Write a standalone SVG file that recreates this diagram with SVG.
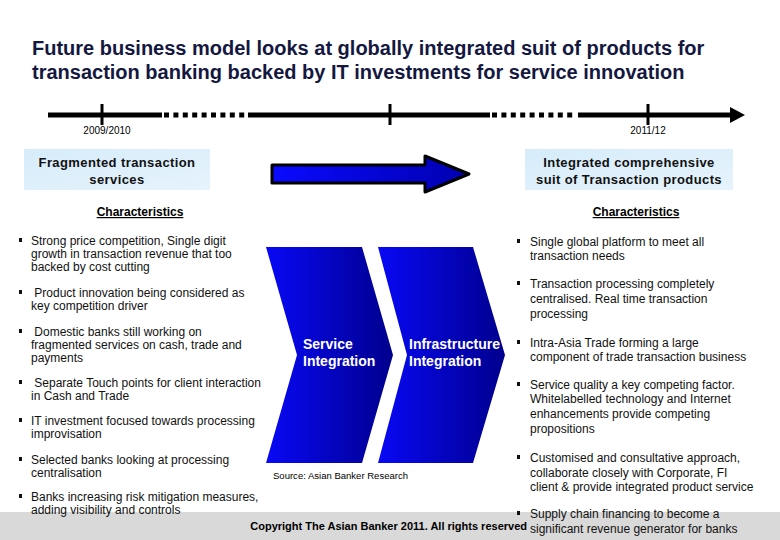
<svg xmlns="http://www.w3.org/2000/svg" width="780" height="540" viewBox="0 0 780 540">
<style>
text{font-family:"Liberation Sans",Arial,sans-serif;fill:#000}
.title{font-size:20px;font-weight:bold;fill:#14183f}
.yr{font-size:10px}
.box{fill:url(#lb)}
.bt{font-size:13px;font-weight:bold;letter-spacing:0.4px;text-anchor:middle;fill:#111}
.hd{font-size:12px;font-weight:bold;text-anchor:middle;text-decoration:underline}
.b{font-size:12px;fill:#111}
.m{fill:#111}
.cv{fill:url(#bg)}
.ct{font-size:14px;font-weight:bold;fill:#fff}
</style>
<defs>
<linearGradient id="lb" x1="0" y1="0" x2="1" y2="1">
<stop offset="0" stop-color="#d6ecfa"/><stop offset="1" stop-color="#e6f3fc"/>
</linearGradient>
<linearGradient id="bg" x1="0" y1="0" x2="1" y2="0">
<stop offset="0" stop-color="#0808f5"/><stop offset="1" stop-color="#00008e"/>
</linearGradient>
<linearGradient id="ag" x1="0" y1="0" x2="1" y2="0">
<stop offset="0" stop-color="#0a0aff"/><stop offset="1" stop-color="#0000b0"/>
</linearGradient>
</defs>
<rect width="780" height="540" fill="#fff"/>
<g id="title">
<text class="title" x="32" y="55">Future business model looks at globally integrated suit of products for</text>
<text class="title" x="32" y="79">transaction banking backed by IT investments for service innovation</text>
</g>
<g id="connectors">
<g id="timeline" stroke="#000" stroke-width="5">
<line x1="48" y1="115" x2="162" y2="115"/>
<line x1="164" y1="115" x2="246" y2="115" stroke-dasharray="5 4.4"/>
<line x1="248" y1="115" x2="490" y2="115"/>
<line x1="492" y1="115" x2="575" y2="115" stroke-dasharray="5 4.4"/>
<line x1="578" y1="115" x2="732" y2="115"/>
<line x1="102" y1="104" x2="102" y2="125" stroke-width="3"/>
<line x1="390" y1="104" x2="390" y2="125" stroke-width="3"/>
<line x1="648" y1="104" x2="648" y2="125" stroke-width="3"/>
<polygon points="730,107 745,115 730,123" stroke="none" fill="#000"/>
</g>
<path id="bigArrow" d="M272,165 H425 V156 L469,174 L425,192 V183 H272 Z" fill="url(#ag)" stroke="#000" stroke-width="3" stroke-linejoin="round"/>
</g>
<text class="yr" x="107" y="134" text-anchor="middle">2009/2010</text>
<text class="yr" x="648" y="134" text-anchor="middle">2011/12</text>
<g id="leftBox">
<rect class="box" x="24" y="149" width="186" height="41"/>
<text class="bt" x="117" y="167">Fragmented transaction</text>
<text class="bt" x="117" y="184">services</text>
</g>
<g id="rightBox">
<rect class="box" x="525" y="149" width="208" height="41"/>
<text class="bt" x="629" y="167">Integrated comprehensive</text>
<text class="bt" x="629" y="184">suit of Transaction products</text>
</g>
<g id="leftList">
<text class="hd" x="140" y="216">Characteristics</text>
<rect class="m" x="19" y="238" width="3" height="4"/>
<text class="b" x="31" y="245">Strong price competition, Single digit</text>
<text class="b" x="31" y="258">growth in transaction revenue that too</text>
<text class="b" x="31" y="271">backed by cost cutting</text>
<rect class="m" x="19" y="290" width="3" height="4"/>
<text class="b" x="31" y="297" xml:space="preserve"> Product innovation being considered as</text>
<text class="b" x="31" y="310">key competition driver</text>
<rect class="m" x="19" y="329" width="3" height="4"/>
<text class="b" x="31" y="336" xml:space="preserve"> Domestic banks still working on</text>
<text class="b" x="31" y="349">fragmented services on cash, trade and</text>
<text class="b" x="31" y="362">payments</text>
<rect class="m" x="19" y="380" width="3" height="4"/>
<text class="b" x="31" y="387" xml:space="preserve"> Separate Touch points for client interaction</text>
<text class="b" x="31" y="400">in Cash and Trade</text>
<rect class="m" x="19" y="418" width="3" height="4"/>
<text class="b" x="31" y="425">IT investment focused towards processing</text>
<text class="b" x="31" y="438">improvisation</text>
<rect class="m" x="19" y="457" width="3" height="4"/>
<text class="b" x="31" y="464">Selected banks looking at processing</text>
<text class="b" x="31" y="477">centralisation</text>
</g>
<rect id="footer" x="0" y="512" width="780" height="28" fill="#d9d9d9"/>
<g id="leftList2">
<rect class="m" x="19" y="494" width="3" height="4"/>
<text class="b" x="31" y="501">Banks increasing risk mitigation measures,</text>
<text class="b" x="31" y="514">adding visibility and controls</text>
</g>
<g id="chevron1">
<polygon class="cv" points="266,247 362,247 393,355 362,463 266,463 297,355"/>
<text class="ct" x="303" y="349">Service</text>
<text class="ct" x="303" y="366">Integration</text>
</g>
<g id="chevron2">
<polygon class="cv" points="378,247 473,247 505,355 473,463 378,463 407,355"/>
<text class="ct" x="409" y="349">Infrastructure</text>
<text class="ct" x="409" y="366">Integration</text>
</g>
<text x="273" y="479" font-size="8.5" textLength="135" lengthAdjust="spacingAndGlyphs">Source: Asian Banker Research</text>
<g id="rightList">
<text class="hd" x="636" y="216">Characteristics</text>
<rect class="m" x="517" y="239" width="3" height="4"/>
<text class="b" x="530" y="246">Single global platform to meet all</text>
<text class="b" x="530" y="260">transaction needs</text>
<rect class="m" x="517" y="281" width="3" height="4"/>
<text class="b" x="530" y="288">Transaction processing completely</text>
<text class="b" x="530" y="303">centralised. Real time transaction</text>
<text class="b" x="530" y="318">processing</text>
<rect class="m" x="517" y="340" width="3" height="4"/>
<text class="b" x="530" y="347">Intra-Asia Trade forming a large</text>
<text class="b" x="530" y="361">component of trade transaction business</text>
<rect class="m" x="517" y="382" width="3" height="4"/>
<text class="b" x="530" y="389">Service quality a key competing factor.</text>
<text class="b" x="530" y="403">Whitelabelled technology and Internet</text>
<text class="b" x="530" y="418">enhancements provide competing</text>
<text class="b" x="530" y="433">propositions</text>
<rect class="m" x="517" y="455" width="3" height="4"/>
<text class="b" x="530" y="462">Customised and consultative approach,</text>
<text class="b" x="530" y="477">collaborate closely with Corporate, FI</text>
<text class="b" x="530" y="491">client &amp; provide integrated product service</text>
<rect class="m" x="517" y="511" width="3" height="4"/>
<text class="b" x="530" y="518">Supply chain financing to become a</text>
<text class="b" x="530" y="533">significant revenue generator for banks</text>
</g>
<text x="527" y="530" font-size="11" font-weight="bold" text-anchor="end">Copyright The Asian Banker 2011. All rights reserved</text>
</svg>
